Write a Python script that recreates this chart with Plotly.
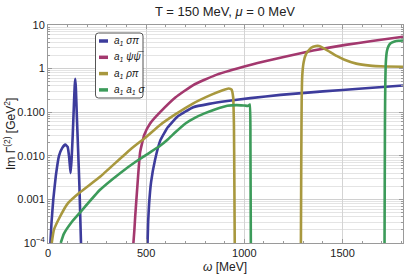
import plotly.graph_objects as go

# ---- data ----
names = ["a<sub>1</sub> σπ", "a<sub>1</sub> ψψ\u0305", "a<sub>1</sub> ρπ", "a<sub>1</sub> a<sub>1</sub> σ"]
colors = ["#3d3c9c", "#a3386e", "#a8983e", "#3c9b5a"]

blue1_w = [12, 18, 27, 40, 56, 72, 88, 100, 108, 115, 120, 126, 132, 136, 139, 142, 147, 153, 160, 168]
blue1_v = [1e-4, 3e-4, 1e-3, 3.5e-3, 0.01, 0.015, 0.018, 0.016, 0.009, 0.004, 0.008, 0.03, 0.15, 0.4, 0.58, 0.35, 0.08, 0.015, 0.002, 1e-4]
blue2_w = [507, 510, 515, 525, 545, 571, 610, 660, 740, 820, 913, 1031, 1184, 1400, 1600, 1808]
blue2_v = [1e-4, 3e-4, 8e-4, 2.5e-3, 0.008, 0.022, 0.045, 0.08, 0.13, 0.155, 0.18, 0.21, 0.25, 0.30, 0.35, 0.41]

mag_w = [435, 440, 444, 454, 469, 490, 520, 571, 650, 740, 850, 995, 1100, 1200, 1350, 1515, 1650, 1808]
mag_v = [1e-4, 2e-4, 4e-4, 1.7e-3, 0.012, 0.03, 0.055, 0.10, 0.22, 0.42, 0.7, 1.1, 1.45, 1.85, 2.6, 3.5, 4.3, 5.4]

gold1_w = [19, 30, 61, 100, 163, 265, 418, 500, 571, 650, 740, 830, 890, 920, 935, 943, 947, 949, 951]
gold1_v = [1e-4, 2e-4, 4e-4, 8e-4, 1.45e-3, 3.3e-3, 0.0138, 0.027, 0.051, 0.09, 0.16, 0.25, 0.32, 0.35, 0.33, 0.22, 0.05, 0.003, 1e-4]
gold2_w = [1288, 1290, 1292, 1295, 1302, 1315, 1340, 1365, 1380, 1400, 1430, 1470, 1510, 1570, 1640, 1720, 1808]
gold2_v = [1e-4, 0.01, 0.2, 0.7, 1.4, 2.2, 3.0, 3.3, 3.3, 3.0, 2.5, 1.95, 1.6, 1.3, 1.17, 1.12, 1.1]

green1_w = [65, 80, 120, 163, 265, 367, 450, 520, 571, 607, 650, 700, 750, 800, 850, 913, 960, 1000, 1020, 1028, 1031, 1033]
green1_v = [1e-4, 1.6e-4, 3e-4, 5e-4, 1.66e-3, 4e-3, 7.5e-3, 0.012, 0.017, 0.023, 0.035, 0.055, 0.075, 0.095, 0.115, 0.14, 0.145, 0.142, 0.14, 0.15, 0.02, 1e-4]
green2_w = [1714, 1716, 1718, 1721, 1726, 1733, 1745, 1765, 1785, 1808]
green2_v = [1e-4, 0.05, 0.5, 1.5, 2.5, 3.2, 3.8, 4.2, 4.35, 4.4]

y_tickvals = [1e-4, 1e-3, 1e-2, 1e-1, 1, 10]
y_ticktext = ["10<sup>−4</sup>", "0.001", "0.010", "0.100", "1", "10"]
x_tickvals = [0, 500, 1000, 1500]

series = [
    [(blue1_w, blue1_v), (blue2_w, blue2_v)],
    [(mag_w, mag_v)],
    [(gold1_w, gold1_v), (gold2_w, gold2_v)],
    [(green1_w, green1_v), (green2_w, green2_v)],
]

FONT = "Liberation Sans, Arial"
fig = go.Figure()
for parts, name, col in zip(series, names, colors):
    for w, v in parts:
        fig.add_trace(go.Scatter(x=w, y=v, mode="lines", name=name, showlegend=False, hoverinfo="skip",
                                 line=dict(color=col, width=2.6, shape="spline", smoothing=0.4)))

# ---- custom legend (small swatches like the reference) ----
L, R, T, B = 48, 403, 25, 243
W, H = R - L, B - T
def px(x): return (x - L) / W
def py(y): return (B - y) / H

x0, x1, y0, y1, r = px(95.5), px(143), py(98), py(33), 3
rx, ry = r / W, r / H
path = (f"M {x0+rx},{y1} L {x1-rx},{y1} Q {x1},{y1} {x1},{y1-ry} L {x1},{y0+ry} Q {x1},{y0} {x1-rx},{y0} "
        f"L {x0+rx},{y0} Q {x0},{y0} {x0},{y0+ry} L {x0},{y1-ry} Q {x0},{y1} {x0+rx},{y1} Z")
fig.add_shape(type="path", xref="paper", yref="paper", path=path,
              line=dict(color="#555", width=1), fillcolor="white", layer="above")
for i, (name, col) in enumerate(zip(names, colors)):
    yy = 41 + 16.3 * i
    fig.add_shape(type="line", xref="paper", yref="paper", x0=px(99), x1=px(108), y0=py(yy), y1=py(yy),
                  line=dict(color=col, width=3.5), layer="above")
    fig.add_annotation(xref="paper", yref="paper", x=px(112), y=py(yy), text="<i>" + name + "</i>",
                       showarrow=False, xanchor="left", yanchor="middle",
                       font=dict(family=FONT, size=10, color="#222"))

# axis titles as annotations (precise placement)
fig.add_annotation(xref="paper", yref="paper", x=px(225), y=py(267), text="<i>ω</i> [MeV]",
                   showarrow=False, xanchor="center", yanchor="middle",
                   font=dict(family=FONT, size=12, color="#222"))
fig.add_annotation(xref="paper", yref="paper", x=px(10), y=py(134), text="Im Γ<sup>(2)</sup> [GeV<sup>2</sup>]",
                   showarrow=False, xanchor="center", yanchor="middle", textangle=-90,
                   font=dict(family=FONT, size=12, color="#222"))

axis_common = dict(showline=True, linecolor="#9a9a9a", linewidth=1, mirror="ticks",
                   ticks="inside", tickcolor="#9a9a9a", ticklen=4, automargin=False,
                   tickfont=dict(family=FONT, size=11, color="#222"),
                   zeroline=False)

fig.update_xaxes(range=[0, 1808], tickmode="array", tickvals=x_tickvals,
                 showgrid=True, gridcolor="#d4d4d4", gridwidth=1,
                 minor=dict(dtick=100, ticks="inside", ticklen=2, tickcolor="#9a9a9a", showgrid=False),
                 **axis_common)
fig.update_yaxes(type="log", range=[-4, 1], tickmode="array", tickvals=y_tickvals, ticktext=y_ticktext,
                 showgrid=True, gridcolor="#d0d0d0", gridwidth=1,
                 minor=dict(dtick="D1", ticks="inside", ticklen=2, tickcolor="#9a9a9a", showgrid=True,
                            gridcolor="#e4e4e4", gridwidth=1),
                 **axis_common)

fig.update_layout(
    width=407, height=279,
    margin=dict(l=L, r=407 - R, t=T, b=279 - B, autoexpand=False),
    paper_bgcolor="white", plot_bgcolor="white",
    title=dict(text="T = 150 MeV, <i>μ</i> = 0 MeV", x=225 / 407, xanchor="center", y=1 - 11 / 279, yanchor="middle",
               font=dict(family=FONT, size=13, color="#222")),
    showlegend=False,
    hovermode=False,
)

fig.write_html("out.html", config={"displayModeBar": False, "staticPlot": True},
               post_script="document.body.style.margin='0';document.body.style.overflow='hidden';")
